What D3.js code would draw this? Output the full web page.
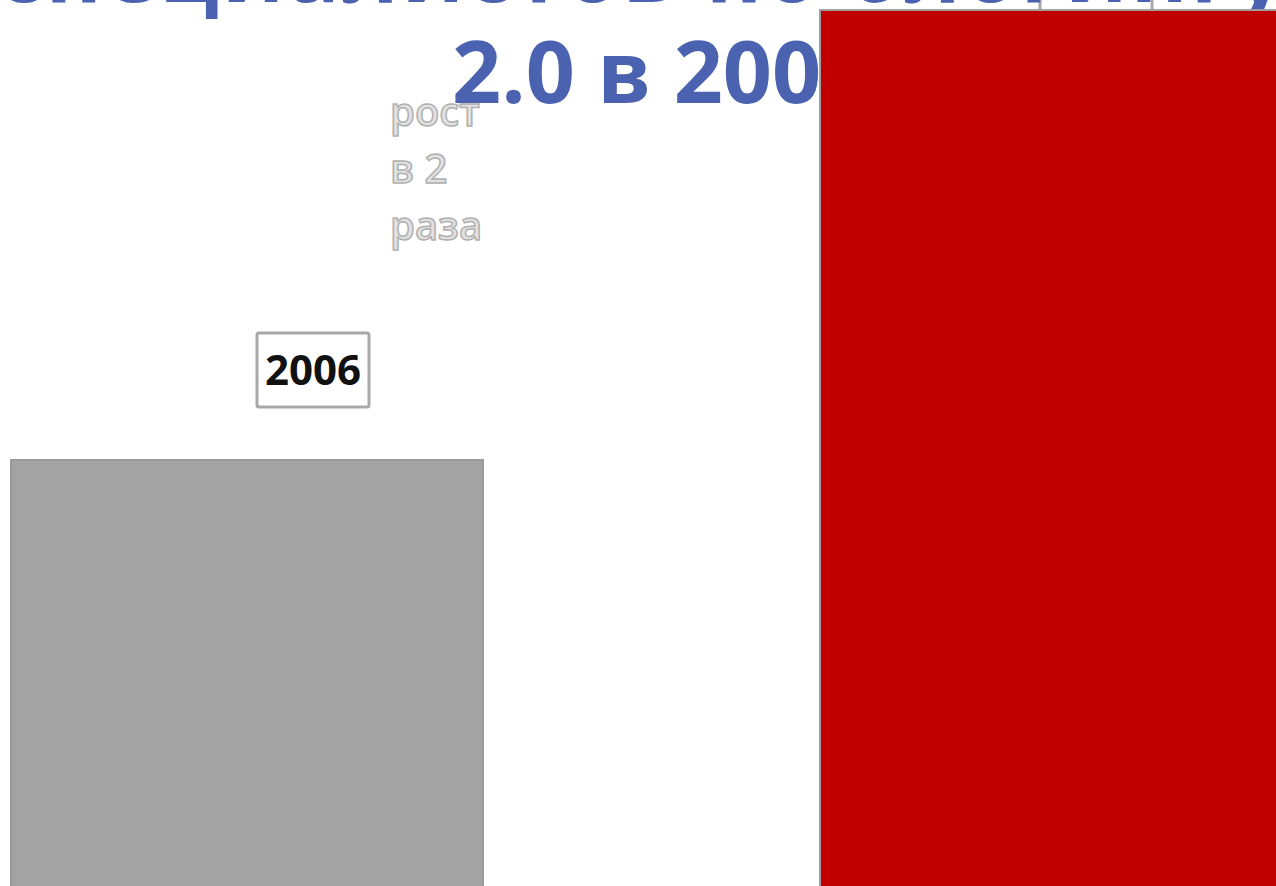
<!DOCTYPE html>
<html>
<head>
<meta charset="utf-8">
<script src="https://cdn.jsdelivr.net/npm/d3@7"></script>
<style>
  html, body { margin: 0; padding: 0; background: #fff; overflow: hidden; }
  svg { display: block; }
</style>
</head>
<body>
<div id="chart"></div>
<script>
// data
const years = ["2006", "2007"];
const values = [1, 2];            // relative count, growth x2
const growthNote = ["рост", "в 2", "раза"];
const titleLines = ["Рост числа специалистов по блогингу и Web", "2.0 в 2007"];

const width = 1276;
const height = 886;

const svg = d3.select("#chart").append("svg")
  .attr("width", width)
  .attr("height", height);

svg.append("rect").attr("width", width).attr("height", height).attr("fill", "#fff");

// scales (baseline sits just under the visible area)
const x = d3.scaleBand()
  .domain(years)
  .range([11, 1292])
  .paddingInner(0.4166)
  .paddingOuter(0);

const y = d3.scaleLinear()
  .domain([0, 2])
  .range([910, 10]);

const data = years.map((yr, i) => ({ year: yr, value: values[i] }));

// year label boxes, offsets from each bar's top-left corner
const labelOffset = { "2006": [246, -127], "2007": [220, -70] };
const boxW = 112, boxH = 74;

const labels = svg.selectAll(".label")
  .data(data)
  .enter().append("g")
  .attr("class", "label")
  .attr("transform", d => `translate(${x(d.year) + labelOffset[d.year][0]}, ${y(d.value) + labelOffset[d.year][1]})`);

labels.append("rect")
  .attr("width", boxW)
  .attr("height", boxH)
  .attr("rx", 2)
  .attr("fill", "#fff")
  .attr("stroke", "#a8a8a8")
  .attr("stroke-width", 3);

labels.append("text")
  .attr("x", boxW / 2)
  .attr("y", boxH / 2)
  .attr("dy", "0.36em")
  .attr("text-anchor", "middle")
  .style("font-family", "'Open Sans', sans-serif")
  .style("font-weight", 700)
  .style("font-size", "42px")
  .attr("fill", "#111")
  .text(d => d.year);

// title (top line is cut off by the frame)
const title = svg.append("g").attr("class", "title")
  .style("font-family", "'Open Sans', sans-serif")
  .style("font-weight", 700)
  .style("font-size", "86px")
  .attr("fill", "#4a62b0");

const line1 = title.append("text")
  .attr("y", 2)
  .text(titleLines[0]);

// shift first line so "специалистов ... блогингу" fills the frame width
const node1 = line1.node();
const startIdx = titleLines[0].indexOf("специалистов");
const endIdx = titleLines[0].indexOf("блогингу") + "блогингу".length;
const preW = node1.getSubStringLength(0, startIdx);
const visW = node1.getSubStringLength(startIdx, endIdx - startIdx);
const spacing = (1290 - visW) / (endIdx - startIdx);
line1.style("letter-spacing", `${spacing}px`)
  .attr("x", -(preW + spacing * startIdx) - 2);

title.append("text")
  .attr("x", 452)
  .attr("y", 103)
  .text(titleLines[1]);

// bars
svg.selectAll(".bar")
  .data(data)
  .enter().append("rect")
  .attr("class", "bar")
  .attr("x", d => x(d.year))
  .attr("y", d => y(d.value))
  .attr("width", x.bandwidth())
  .attr("height", d => y(0) - y(d.value))
  .attr("fill", (d, i) => i === 0 ? "#a3a3a3" : "#c00000")
  .attr("stroke", (d, i) => i === 0 ? "#9a9a9a" : "#a0a0a0")
  .attr("stroke-width", 2);

// growth note
const note = svg.append("text")
  .style("font-family", "'Open Sans', sans-serif")
  .style("font-weight", 600)
  .style("font-size", "40px")
  .attr("fill", "#e2e2e2")
  .attr("stroke", "#b0b0b0")
  .attr("stroke-width", 1.5);

note.selectAll("tspan")
  .data(growthNote)
  .enter().append("tspan")
  .attr("x", 390)
  .attr("y", (d, i) => 126 + i * 57)
  .text(d => d);
</script>
</body>
</html>
